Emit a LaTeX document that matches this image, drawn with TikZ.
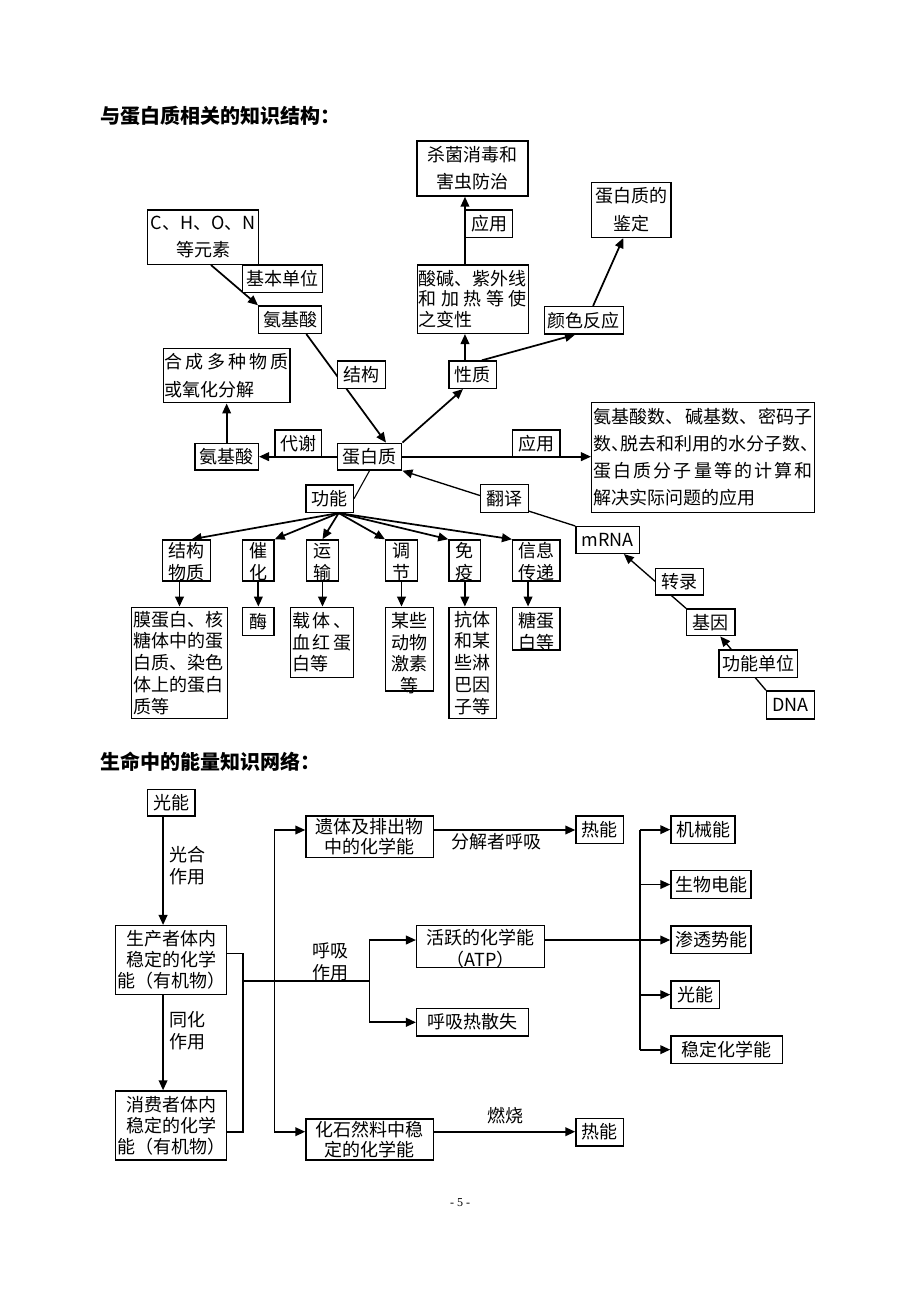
\documentclass[tikz,border=0pt]{standalone}
\usepackage{fontspec}
\setmainfont{Noto Sans CJK SC}
\newfontfamily\serif{Liberation Serif}
\usetikzlibrary{arrows.meta,calc}
\pgfdeclarelayer{bg}
\pgfsetlayers{bg,main}
\newcommand\fs{\fontsize{13.5pt}{16.3pt}\selectfont}
\newcommand\fsw{\fontsize{13.5pt}{20.5pt}\selectfont}
\newcommand\spr[1]{\leavevmode\hbox to\hsize{#1}}
\newcommand\bx[7][]{%
  \node[box, minimum width={(#4-#2)*0.75pt}, minimum height={(#5-#3)*0.75pt}] (#6) at ({(#2+#4)/2},{(#3+#5)/2}) {};
  \node[txt,#1] (#6t) at (#6.center) {#7};
}
\begin{document}
\begin{tikzpicture}[x=0.75pt,y=-0.75pt,
  box/.style={draw, line width=1.1pt, fill=white, inner sep=0pt},
  txt/.style={inner sep=0pt, font=\fs, align=center},
  arr/.style={line width=1.3pt, -{Triangle[length=7.5pt,width=6.5pt]}},
  arrt/.style={line width=1pt, -{Triangle[length=7.5pt,width=6.5pt]}},
  ln/.style={line width=1.2pt},
  thin/.style={line width=0.8pt}]

\begin{pgfonlayer}{bg}
\fill[white] (0,0) rectangle (920,1300);
\end{pgfonlayer}

% titles
\node[anchor=west, inner sep=0pt, font=\fontsize{15pt}{18pt}\selectfont\bfseries] (t1) at (100,116) {与蛋白质相关的知识结构：};
\node[anchor=west, inner sep=0pt, font=\fontsize{15pt}{18pt}\selectfont\bfseries] (t2) at (100,762) {生命中的能量知识网络：};
\node[inner sep=0pt, font=\serif\fontsize{9pt}{11pt}\selectfont] (pg) at (460,1203) {- 5 -};

% ---------- diagram 1 ----------
\bx[font=\fsw]{417}{141}{528}{196}{kill}{杀菌消毒和\\害虫防治}
\bx{465.7}{210}{512.3}{237.3}{yyA}{应用}
\bx[font=\fsw]{147.7}{210}{258.3}{264.3}{chon}{C、H、O、N\\等元素}
\bx{242.7}{265}{322.3}{292.7}{jbdw}{基本单位}
\bx{258.7}{306}{321.7}{333.3}{aaA}{氨基酸}
\bx[font=\fsw,text width=93pt,align=left]{163.3}{348.3}{290}{402.7}{hc}{\spr{合\hfill 成\hfill 多\hfill 种\hfill 物\hfill 质}\\或氧化分解}
\bx{337.7}{361}{385.7}{388.3}{jg}{结构}
\bx[text width=81pt,align=left,font=\fontsize{13.5pt}{15.6pt}\selectfont]{417.3}{265}{528.3}{333.3}{sj}{酸碱、紫外线\\\spr{和\hfill 加\hfill 热\hfill 等\hfill 使}\\之变性}
\bx{449}{361}{496.7}{388.3}{xz}{性质}
\bx[font=\fsw]{591.7}{182.3}{671}{237.3}{jd}{蛋白质的\\鉴定}
\bx{544.3}{306.7}{623.3}{334}{ysfy}{颜色反应}
\bx{337.3}{443.3}{401.7}{470}{dbz}{蛋白质}
\bx{275}{430}{321.7}{456.7}{dx}{代谢}
\bx{195}{443.3}{258.3}{470}{aaB}{氨基酸}
\bx{512.7}{430}{560}{456.7}{yyB}{应用}
\bx[text width=164.25pt,align=left,font=\fontsize{13.5pt}{20.4pt}\selectfont]{591.7}{402.3}{814.3}{512.3}{big}{\spr{氨基酸数、\hfil 碱基数、\hfil 密码子}\\\spr{数\makebox[6.75pt][l]{、}脱去和利用的水分子数\makebox[6.75pt][l]{、}\hss}\\\spr{蛋\hfill 白\hfill 质\hfill 分\hfill 子\hfill 量\hfill 等\hfill 的\hfill 计\hfill 算\hfill 和}\\解决实际问题的应用}
\bx{480.7}{484.3}{528.3}{512.3}{fy}{翻译}
\bx{306}{485}{353.3}{512.3}{gn}{功能}

\bx[yshift=-1pt]{162.7}{540}{210.7}{581}{jgwz}{结构\\物质}
\bx[yshift=-1pt]{242.7}{540}{274}{581}{ch}{催\\化}
\bx[yshift=-1pt]{306.7}{540}{338.3}{581}{ys}{运\\输}
\bx[yshift=-1pt]{385.7}{540}{417.3}{581}{tj}{调\\节}
\bx[yshift=-1pt]{449}{540}{480.7}{581}{my}{免\\疫}
\bx[yshift=-1pt]{512.7}{540}{560}{581}{xx}{信息\\传递}

\bx[text width=69pt,align=left]{131.7}{607.3}{227.3}{718.3}{mdb}{膜蛋白、核\\糖体中的蛋\\白质、染色\\体上的蛋白\\质等}
\bx{242.7}{607.3}{274}{635.7}{mei}{酶}
\bx[text width=45pt,align=left]{290.7}{607.3}{353.3}{677.3}{zt}{\spr{载\hfill 体\hfill 、}\\\spr{血\hfill 红\hfill 蛋}\\白等}
\bx[yshift=-3pt]{385.7}{607.3}{433.3}{691}{jisu}{某些\\动物\\激素\\等}
\bx{449}{607.3}{496.7}{718.3}{kt}{抗体\\和某\\些淋\\巴因\\子等}
\bx[yshift=-2pt]{512.7}{607.3}{560}{650}{tdb}{糖蛋\\白等}

\bx{576}{526.7}{639.3}{553.3}{mrna}{mRNA}
\bx{655.7}{568.3}{703.3}{595}{zl}{转录}
\bx{686.7}{609}{735}{635.7}{jy}{基因}
\bx{719}{650}{797.7}{677.3}{gndw}{功能单位}
\bx{766.7}{691}{814.3}{719}{dna}{DNA}

\begin{pgfonlayer}{bg}
\draw[arr] ([xshift=6pt]chon.south) -- (aaA.north west);
\draw[arr] ($(aaA.south)!0.5!(aaA.south east)$) -- ($(dbz.north)!0.5!(dbz.north east)$);
\draw[arr] (sj.north -| yyA.west) -- (kill.south -| yyA.west);
\draw[arr] (xz.north -| yyA.west) -- (sj.south -| yyA.west);
\draw[arr] ($(xz.north)!0.37!(xz.north east)$) -- ($(ysfy.south west)!0.78!(ysfy.south)$);
\draw[arr] ($(ysfy.north)!0.23!(ysfy.north east)$) -- ($(jd.south west)!0.8!(jd.south)$);
\draw[arr] (dbz.north east) -- ($(xz.south west)!0.6!(xz.south)$);
\draw[arr] (dbz.east) -- (dbz.east -| big.west);
\draw[arr] (dbz.west) -- (aaB.east);
\draw[arr] (aaB.north) -- (aaB.north |- hc.south);
\draw[thin] (dbz.south) -- (gn.east);
\coordinate (fo) at ($(gn.south)!0.37!(gn.south east)$);
\draw[arr] (fo) -- ($(jgwz.north)!0.2!(jgwz.north east)$);
\draw[arr] (fo) -- (ch.north east);
\draw[arr] (fo) -- (ys.north);
\draw[arr] (fo) -- (tj.north west);
\draw[arr] (fo) -- (my.north west);
\draw[arr] (fo) -- (xx.north west);
\draw[arr] (jgwz.south -| mdb.north) -- (mdb.north);
\draw[arr] (ch.south) -- (mei.north);
\draw[arr] (ys.south) -- (ys.south |- zt.north);
\draw[arr] (tj.south) -- (tj.south |- jisu.north);
\draw[arr] (my.south) -- (my.south |- kt.north);
\coordinate (xxb) at ($(xx.south west)!0.33!(xx.south east)$);
\draw[arr] (xxb) -- (xxb |- tdb.north);
\draw[arrt] (mrna.north west) -- (dbz.south east);
\draw[arrt] (jy.north west) -- ($(mrna.south)!0.5!(mrna.south east)$);
\draw[arrt] (dna.north west) -- ($(jy.south)!0.38!(jy.south east)$);
\end{pgfonlayer}

% ---------- diagram 2 ----------
\bx{147.7}{789.3}{195}{816}{gnA}{光能}
\bx[font=\fontsize{13.5pt}{15.8pt}\selectfont]{115.7}{925.7}{226.7}{994.3}{sc}{生产者体内\\稳定的化学\\能（有机物）}
\bx[font=\fontsize{13.5pt}{15.8pt}\selectfont]{115.7}{1091}{226.7}{1160}{xf}{消费者体内\\稳定的化学\\能（有机物）}
\bx[font=\fontsize{13.5pt}{15pt}\selectfont]{306}{816}{433.3}{857.3}{yt}{遗体及排出物\\中的化学能}
\bx[font=\fontsize{13.5pt}{15pt}\selectfont]{306}{1119}{433.3}{1160}{hs}{化石然料中稳\\定的化学能}
\bx[yshift=-1.5pt]{416.7}{925.7}{544.3}{967.3}{hy}{活跃的化学能\\（ATP）}
\bx{416.7}{1008.3}{528.3}{1036}{hx}{呼吸热散失}
\bx{576}{816}{623.3}{843.3}{rnA}{热能}
\bx{576}{1118.3}{623.3}{1146}{rnB}{热能}
\bx{671}{816}{735}{843.3}{jx}{机械能}
\bx{671}{870.7}{751}{898.3}{sw}{生物电能}
\bx{671}{926}{751}{953.3}{st}{渗透势能}
\bx{671}{981}{719.3}{1008.3}{gnB}{光能}
\bx{671}{1036}{782.7}{1063.3}{wd}{稳定化学能}

\node[txt] (lgh) at (187.5,866) {光合\\作用};
\node[txt] (lth) at (187.5,1031) {同化\\作用};
\node[txt] (lhx) at (330,962) {呼吸\\作用};
\node[txt] (lfj) at (496,841.5) {分解者呼吸};
\node[txt] (lrs) at (505,1116) {燃烧};

\begin{pgfonlayer}{bg}
\coordinate (gx) at ($(gnA.south west)!0.33!(gnA.south east)$);
\draw[arr] (gx) -- (gx |- sc.north);
\draw[arr] (gx |- sc.south) -- (gx |- xf.north);
\coordinate (b1) at (242.7,953.3);
\coordinate (b2) at (242.7,1131.7);
\coordinate (b3) at (242.7,981);
\coordinate (b4) at (369.3,981);
\draw[ln] (b1 -| sc.east) -- (b1) -- (b2) -- (b2 -| xf.east);
\draw[ln] (b3) -- (b4);
\coordinate (v1) at (274.3,830);
\coordinate (v2) at (274.3,1131.7);
\draw[ln] (v1) -- (v2);
\draw[arr] (v1) -- (v1 -| yt.west);
\draw[arr] (v2) -- (v2 -| hs.west);
\coordinate (h1) at (369.3,940);
\coordinate (h2) at (369.3,1022.3);
\draw[ln] (h1) -- (h2);
\draw[arr] (h1) -- (h1 -| hy.west);
\draw[arr] (h2) -- (h2 -| hx.west);
\draw[arr] (v1 -| yt.east) -- (v1 -| rnA.west);
\draw[arr] (v2 -| hs.east) -- (v2 -| rnB.west);
\draw[arr] (h1 -| hy.east) -- (h1 -| st.west);
\coordinate (rt) at (640,829.65);
\coordinate (rb) at (640,1049.65);
\draw[ln] (rt) -- (rb);
\foreach \n in {jx,sw,gnB,wd} \draw[arr] (\n.west -| rt) -- (\n.west);
\end{pgfonlayer}
\end{tikzpicture}
\end{document}
